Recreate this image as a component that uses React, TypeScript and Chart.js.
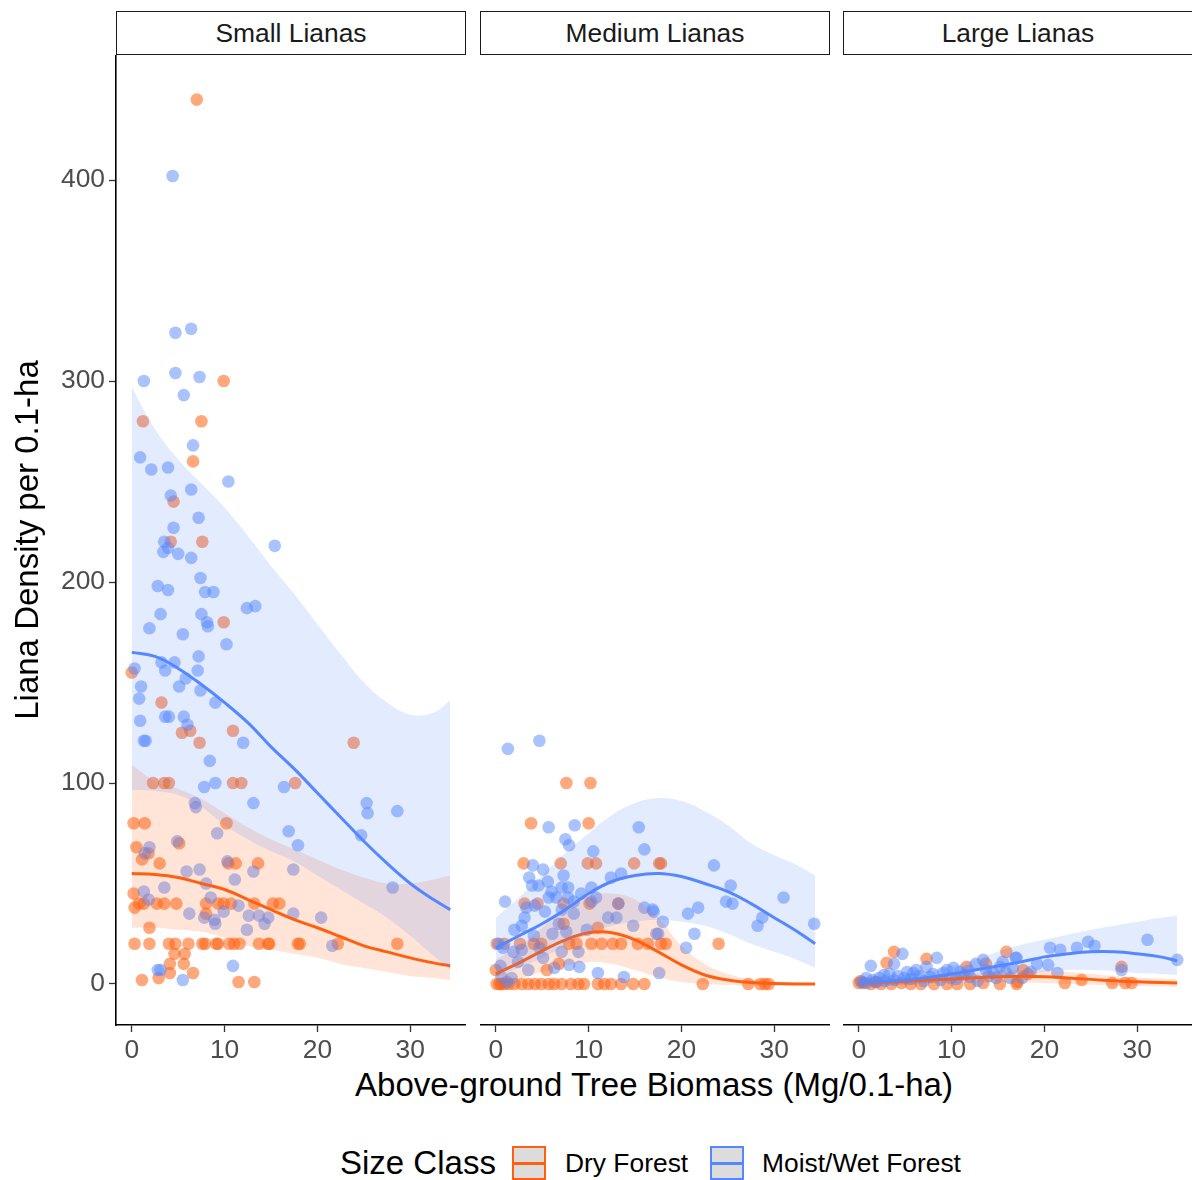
import React, { useEffect, useRef } from "react";
import { Chart, registerables } from "chart.js";

Chart.register(...registerables);

const FONT = "'Liberation Sans', Arial, Helvetica, sans-serif";

// ---------- axes ----------
const X_MIN = -1.7;
const X_MAX = 36.0;
const Y_MIN = -20.4;
const Y_MAX = 462.2;
const X_TICKS = [0, 10, 20, 30];
const Y_TICKS = [0, 100, 200, 300, 400];
const Y_TITLE = "Liana Density per 0.1-ha";
const X_TITLE = "Above-ground Tree Biomass (Mg/0.1-ha)";
const LEGEND_TITLE = "Size Class";
const panelNames = ["Small Lianas", "Medium Lianas", "Large Lianas"];
const groupNames = ["Dry Forest", "Moist/Wet Forest"];

// ---------- colours ----------
const ORANGE = "rgb(255,96,16)";
const ORANGE_PT = "rgba(255,96,16,0.55)";
const ORANGE_BAND = "rgba(255,96,16,0.17)";
const BLUE = "rgb(85,135,255)";
const BLUE_PT = "rgba(85,135,255,0.5)";
const BLUE_BAND = "rgba(85,135,255,0.165)";

// ---------- Small lianas ----------
const smallMoist: number[][] = [
  [4.4, 402], [6.4, 326], [4.7, 324], [1.3, 300], [4.7, 304], [7.3, 302], [5.6, 293], [6.6, 268],
  [0.9, 262], [2.1, 256], [3.9, 257], [6.4, 246], [4.2, 243], [10.4, 250], [7.2, 232], [4.5, 227],
  [3.5, 220], [3.9, 217], [3.4, 215], [5.0, 214], [6.4, 212], [15.4, 218], [7.4, 202], [2.8, 198],
  [3.9, 196], [7.9, 195], [8.8, 195], [13.3, 188], [12.4, 187], [3.1, 184], [7.5, 184], [8.1, 180],
  [8.2, 178], [1.9, 177], [5.5, 174], [10.2, 169], [3.2, 160], [4.6, 160], [0.3, 157], [7.2, 163],
  [3.6, 156], [5.8, 152], [7.1, 156], [1.0, 148], [5.1, 148], [7.4, 146], [0.8, 142], [9.0, 140],
  [4.0, 133], [3.6, 133], [5.6, 133], [0.9, 131], [6.0, 129], [12.0, 120], [1.3, 121], [1.5, 121],
  [8.4, 111], [7.8, 98], [9.0, 100], [16.4, 98], [16.9, 76], [6.8, 90], [6.9, 88], [13.1, 90],
  [17.9, 69], [25.3, 90], [25.4, 85], [28.6, 86], [24.7, 74], [28.1, 48], [17.4, 57], [9.2, 75],
  [10.3, 61], [4.9, 71], [1.9, 68], [1.4, 65], [5.9, 56], [7.3, 57], [8.0, 50], [11.1, 52],
  [13.1, 56], [3.5, 48], [1.3, 46], [1.8, 42], [8.5, 43], [6.2, 35], [7.8, 33], [8.9, 32],
  [9.0, 30], [9.9, 36], [11.5, 39], [12.6, 34], [13.7, 34], [14.7, 33], [14.3, 30], [17.4, 35],
  [20.4, 33], [21.6, 19], [10.9, 9], [3.1, 7], [5.5, 2], [2.8, 7], [12.4, 27],
];
const smallDry: number[][] = [
  [7.0, 440], [9.9, 300], [1.2, 280], [7.5, 280], [6.6, 260], [4.5, 240], [4.2, 220], [7.6, 220],
  [9.9, 180], [0.0, 155], [3.2, 140], [5.4, 125], [6.3, 126], [10.9, 126], [7.3, 120], [23.9, 120],
  [2.3, 100], [3.5, 100], [4.0, 100], [10.9, 100], [11.8, 100], [17.6, 100], [0.2, 80], [1.4, 80],
  [10.2, 80], [0.5, 68], [5.1, 70], [1.1, 62], [1.8, 65], [3.0, 60], [10.4, 60], [11.2, 60],
  [13.6, 60], [0.2, 45], [0.3, 38], [0.8, 40], [1.3, 40], [2.7, 40], [3.5, 40], [4.8, 40],
  [8.0, 40], [9.3, 40], [9.9, 40], [10.7, 40], [13.2, 40], [15.2, 40], [15.9, 40], [8.0, 35],
  [1.9, 28], [0.3, 20], [1.9, 20], [4.0, 20], [4.7, 20], [6.1, 20], [7.6, 20], [7.9, 20],
  [9.1, 20], [9.3, 20], [10.5, 20], [11.0, 20], [11.6, 20], [13.7, 20], [14.7, 20], [14.8, 20],
  [17.9, 20], [18.1, 20], [22.2, 20], [28.6, 20], [4.6, 15], [5.7, 15], [4.1, 10], [5.6, 10],
  [6.6, 5.5], [1.1, 2], [2.9, 3], [4.1, 5.5], [11.5, 1], [13.2, 1],
];
const smallFitX = [0, 2.5, 5, 7.5, 10, 12.5, 15, 17.5, 20, 22.5, 25, 27.5, 30, 32.5, 34.3];
const smallMoistFit = [165, 163, 157, 149, 140, 130, 118, 107, 95, 83, 71, 60, 50, 42, 37];
const smallMoistUpper = [297, 276, 261, 249, 237, 223, 208, 194, 179, 164, 150, 140, 134, 135, 141];
const smallMoistLower = [96.5, 96, 94, 88, 79, 72, 66, 61, 54, 47, 40, 33, 24, 14, 7];
const smallDryFit = [55, 54.5, 53, 50, 47, 42, 37, 32, 28, 23.5, 19, 16, 13, 10.5, 9];
const smallDryUpper = [109, 101, 97, 92, 85, 78, 72, 67, 62, 57, 53, 50, 50, 52, 54];
const smallDryLower = [28, 28, 27, 26, 23, 19, 17, 15, 13, 10, 8, 6, 4, 3, 2];

// ---------- Medium lianas ----------
const mediumMoist: number[][] = [
  [1.3, 117], [4.7, 121], [5.7, 78], [8.5, 79], [7.5, 72], [7.9, 69], [15.4, 78], [16.0, 67],
  [10.5, 66], [1.0, 41], [4.0, 59], [5.1, 57], [3.6, 53], [3.9, 49], [4.6, 49], [5.6, 51],
  [6.0, 46], [7.3, 54], [7.1, 48], [7.8, 48], [10.3, 48], [9.2, 45], [12.4, 53], [13.5, 55],
  [5.7, 43], [6.5, 43], [7.8, 43], [10.8, 43], [3.3, 38], [4.2, 39], [5.3, 36], [3.1, 33],
  [2.8, 29], [2.0, 27], [7.1, 37], [8.4, 35], [6.8, 30], [7.6, 26], [6.1, 25], [4.1, 24],
  [0.8, 18], [1.9, 16], [2.8, 17], [4.7, 18], [5.1, 13], [7.1, 16], [8.9, 16], [6.3, 8],
  [7.9, 9.5], [9.0, 8.5], [3.5, 7], [0.6, 3.5], [1.7, 3], [1.2, 1], [11.0, 5.5], [13.8, 3.5],
  [12.1, 33], [13.2, 40], [13.0, 33], [14.8, 29], [10.3, 41], [8.4, 41], [16.0, 38], [17.0, 36],
  [17.5, 25], [9.8, 27], [23.5, 59], [25.3, 49], [24.8, 41], [25.5, 40], [31.0, 43], [21.8, 38],
  [20.7, 35], [18.0, 31], [28.7, 33], [28.2, 29], [34.3, 30], [21.4, 25], [20.5, 18], [17.3, 25],
  [16.9, 37], [17.6, 5.5], [0.3, 20], [2.4, 11], [0.5, 9],
];
const mediumDry: number[][] = [
  [7.6, 100], [10.2, 100], [3.8, 80], [10.0, 80], [3.0, 60], [7.0, 60], [9.9, 60], [10.8, 60],
  [14.9, 60], [17.6, 60], [17.8, 60], [24.0, 20], [3.1, 40], [4.5, 40], [7.3, 40], [10.1, 40],
  [13.2, 40], [17.8, 20], [18.3, 20], [11.0, 28], [7.3, 30], [0.1, 20], [0.9, 20], [2.6, 20],
  [4.1, 20], [4.9, 20], [7.9, 20], [8.7, 20], [10.3, 20], [11.4, 20], [12.6, 20], [13.5, 20],
  [15.3, 20], [16.4, 20], [0.1, 0], [0.6, 0], [1.4, 0], [2.0, 0], [2.8, 0], [3.5, 0],
  [4.2, 0], [4.9, 0], [5.7, 0], [6.3, 0], [7.1, 0], [8.1, 0], [8.9, 0], [9.5, 0],
  [11.0, 0], [11.7, 0], [12.4, 0], [13.5, 0], [14.8, 0], [16.0, 0], [22.3, 0], [27.2, 0],
  [28.5, 0], [29.0, 0], [29.4, 0], [5.5, 7], [6.8, 10], [0.0, 7], [0.4, 0], [1.0, 0],
];
const mediumFitX = [0, 2.5, 5, 7.5, 10, 12.5, 15, 17.5, 20, 22.5, 25, 27.5, 30, 32.5, 34.4];
const mediumMoistFit = [18, 24, 30, 37, 45, 51, 54, 55, 53.5, 50, 46, 40, 33, 26, 20];
const mediumMoistUpper = [33, 43, 54, 65, 75, 84, 90, 92.5, 91, 86, 79, 70, 64, 59, 54];
const mediumMoistLower = [4, 8, 13, 19, 25, 29, 31, 32, 31, 29, 25, 20, 16, 12, 8];
const mediumDryFit = [5, 10.5, 16.5, 22, 25.5, 25.5, 22, 16, 9.5, 4.5, 2, 0.7, 0.2, 0, 0];
const mediumDryUpper = [12, 19, 28, 38, 44, 45, 42, 33, 19, 10, 5, 2.5, 1.2, 0.8, 0.5];
const mediumDryLower = [-1, 2.5, 6, 9, 11, 10, 7, 3.5, 1, 0, -0.5, -0.8, -0.8, -0.6, -0.5];

// ---------- Large lianas ----------
const largeMoist: number[][] = [
  [1.3, 9], [4.7, 15], [3.8, 10], [8.4, 13], [7.3, 8.5], [5.9, 5.5], [2.7, 4.5], [0.8, 3],
  [9.1, 5.5], [10.9, 6], [12.6, 10], [13.4, 12], [15.2, 8.5], [16.9, 13], [1.9, 1], [3.8, 2],
  [5.6, 2.5], [7.7, 3.5], [9.9, 3], [12.0, 3.5], [13.7, 7], [14.5, 5.5], [16.3, 3], [17.0, 13],
  [20.6, 18], [21.7, 17], [23.5, 18], [24.7, 21], [25.4, 19], [31.1, 22], [34.3, 12], [28.3, 7],
  [20.4, 9.5], [21.4, 5.5], [17.6, 3], [0.3, 1], [2.2, 3], [4.2, 4], [6.5, 4], [8.8, 2],
  [11.3, 4.5], [14.0, 4], [15.8, 6], [10.2, 8], [6.2, 7], [0.8, 0.5], [1.5, 2], [2.8, 1.5],
  [3.3, 5], [4.9, 3], [5.2, 6], [7.0, 1.5], [8.0, 5], [9.5, 7], [10.5, 2.5], [11.8, 6.5],
  [12.8, 1.5], [14.8, 3], [15.5, 11], [16.6, 8], [18.5, 6], [19.2, 10],
];
const largeDry: number[][] = [
  [3.8, 16], [3.0, 10.5], [7.3, 12.5], [0.0, 0.5], [0.5, 0.5], [1.3, 0], [2.4, 0], [3.5, 0],
  [4.6, 0.5], [5.6, 0], [6.7, 0], [8.1, 0], [9.5, 0], [10.6, 0], [12.0, 0], [13.4, 0.5],
  [15.2, 0], [17.0, 0], [11.6, 8.5], [13.7, 10], [15.9, 16], [17.7, 7], [18.2, 5], [22.2, 0.5],
  [24.0, 2], [27.3, 0.5], [28.3, 8.5], [28.7, 0.5], [29.4, 0.5], [17.1, 1], [0.2, 1.5], [1.8, 1],
];
const largeFitX = [0, 2.5, 5, 7.5, 10, 12.5, 15, 17.5, 20, 22.5, 25, 27.5, 30, 32.5, 34.3];
const largeMoistFit = [0.5, 1.2, 2, 3.3, 5, 7, 9, 11, 13.5, 15, 16, 16, 15, 13.5, 11.5];
const largeMoistUpper = [3, 3.5, 5, 6.5, 9, 12, 16, 19.5, 22, 24.5, 27, 29, 31, 33, 34];
const largeMoistLower = [-2, -1, -0.5, 0.5, 1.5, 2.5, 3.5, 4.5, 6, 7, 7, 6.5, 5.5, 5, 4.5];
const largeDryFit = [0.3, 0.8, 1.3, 1.9, 2.5, 3.1, 3.6, 3.8, 3.6, 3, 2.3, 1.6, 1.1, 0.7, 0.5];
const largeDryUpper = [2, 2.3, 2.8, 3.5, 4.5, 5.5, 6.5, 7, 6.8, 6, 5, 4, 3.2, 2.7, 2.5];
const largeDryLower = [-1.4, -0.7, -0.2, 0.3, 0.5, 0.7, 0.7, 0.6, 0.4, 0, -0.4, -0.8, -1, -1.3, -1.5];

// ---------- helpers ----------
const xy = (xs: number[], ys: number[]) => xs.map((x, i) => ({ x, y: ys[i] }));
const pts = (arr: number[][]) => arr.map(([x, y]) => ({ x, y }));

type PanelData = {
  moist: number[][];
  dry: number[][];
  fitX: number[];
  moistFit: number[];
  moistUpper: number[];
  moistLower: number[];
  dryFit: number[];
  dryUpper: number[];
  dryLower: number[];
};

const panels: PanelData[] = [
  { moist: smallMoist, dry: smallDry, fitX: smallFitX, moistFit: smallMoistFit, moistUpper: smallMoistUpper, moistLower: smallMoistLower, dryFit: smallDryFit, dryUpper: smallDryUpper, dryLower: smallDryLower },
  { moist: mediumMoist, dry: mediumDry, fitX: mediumFitX, moistFit: mediumMoistFit, moistUpper: mediumMoistUpper, moistLower: mediumMoistLower, dryFit: mediumDryFit, dryUpper: mediumDryUpper, dryLower: mediumDryLower },
  { moist: largeMoist, dry: largeDry, fitX: largeFitX, moistFit: largeMoistFit, moistUpper: largeMoistUpper, moistLower: largeMoistLower, dryFit: largeDryFit, dryUpper: largeDryUpper, dryLower: largeDryLower },
];

// layout (pixels)
const PANEL_TOP = 55;
const PLOT_H = 970;
const XAXIS_H = 40;
const YAXIS_W = 116;
const PANEL_W = 350;
const panelLefts = [116, 480, 843];

function FacetPanel({ idx }: { idx: number }) {
  const ref = useRef<HTMLCanvasElement | null>(null);
  const first = idx === 0;
  const plotLeft = panelLefts[idx];
  const canvasLeft = first ? 0 : plotLeft;
  const plotW = Math.min(PANEL_W, 1192 - plotLeft);
  const canvasW = (first ? YAXIS_W : 0) + plotW;
  const xMax = X_MIN + (plotW * (X_MAX - X_MIN)) / PANEL_W;

  useEffect(() => {
    const p = panels[idx];
    const line = (data: any, color: string, order: number, label: string) => ({
      type: "line" as const, label, data, borderColor: color, borderWidth: 3, pointRadius: 0,
      showLine: true, fill: false, tension: 0.4, order,
    });
    const band = (data: any, fill: any, bg: string, order: number, label: string) => ({
      type: "line" as const, label, data, borderWidth: 0, borderColor: "rgba(0,0,0,0)", pointRadius: 0,
      showLine: true, fill, backgroundColor: bg, tension: 0.4, order,
    });
    const tickFont = { family: FONT, size: 26.4 };
    const chart = new Chart(ref.current as HTMLCanvasElement, {
      type: "scatter",
      data: {
        datasets: [
          line(xy(p.fitX, p.moistFit), BLUE, 1, groupNames[1] + " fit"),
          band(xy(p.fitX, p.moistUpper), "+1", BLUE_BAND, 2, groupNames[1] + " upper"),
          band(xy(p.fitX, p.moistLower), false, BLUE_BAND, 2, groupNames[1] + " lower"),
          line(xy(p.fitX, p.dryFit), ORANGE, 3, groupNames[0] + " fit"),
          band(xy(p.fitX, p.dryUpper), "+1", ORANGE_BAND, 4, groupNames[0] + " upper"),
          band(xy(p.fitX, p.dryLower), false, ORANGE_BAND, 4, groupNames[0] + " lower"),
          { type: "scatter", label: groupNames[1], data: pts(p.moist), backgroundColor: BLUE_PT, borderWidth: 0, pointRadius: 6.3, order: 5 },
          { type: "scatter", label: groupNames[0], data: pts(p.dry), backgroundColor: ORANGE_PT, borderWidth: 0, pointRadius: 6.3, order: 6 },
        ] as any,
      },
      options: {
        animation: false,
        responsive: false,
        devicePixelRatio: 1,
        events: [],
        layout: { padding: 0, autoPadding: false },
        plugins: { legend: { display: false }, tooltip: { enabled: false }, title: { display: false } },
        scales: {
          x: {
            type: "linear",
            min: X_MIN,
            max: xMax,
            afterBuildTicks: (s: any) => { s.ticks = X_TICKS.map((v) => ({ value: v })); },
            afterFit: (s: any) => { s.height = XAXIS_H; s.paddingLeft = 0; s.paddingRight = 0; },
            ticks: { font: tickFont, color: "#4D4D4D", padding: 3, maxRotation: 0, autoSkip: false },
            grid: { display: true, drawOnChartArea: false, drawTicks: true, tickLength: 7, tickColor: "#333333", tickWidth: 1.3 },
            border: { display: true, color: "#000000", width: 1.6 },
          },
          y: {
            type: "linear",
            display: first,
            min: Y_MIN,
            max: Y_MAX,
            afterBuildTicks: (s: any) => { s.ticks = Y_TICKS.map((v) => ({ value: v })); },
            afterFit: (s: any) => { s.width = first ? YAXIS_W : 0; s.paddingTop = 0; s.paddingBottom = 0; },
            title: { display: first, text: Y_TITLE, font: { family: FONT, size: 33 }, color: "#000000", padding: { top: 9, bottom: 0 } },
            ticks: { font: tickFont, color: "#4D4D4D", padding: 4, autoSkip: false },
            grid: { display: true, drawOnChartArea: false, drawTicks: true, tickLength: 7, tickColor: "#333333", tickWidth: 1.3 },
            border: { display: true, color: "#000000", width: 1.6 },
          },
        },
      } as any,
    });
    return () => chart.destroy();
  }, [idx]);

  return (
    <canvas
      ref={ref}
      width={canvasW}
      height={PLOT_H + XAXIS_H}
      style={{ position: "absolute", left: canvasLeft, top: PANEL_TOP, width: canvasW, height: PLOT_H + XAXIS_H }}
    />
  );
}

function Strip({ idx }: { idx: number }) {
  return (
    <div
      style={{
        position: "absolute", left: panelLefts[idx], top: 11, width: PANEL_W, height: 44,
        boxSizing: "border-box", border: "1.8px solid #1A1A1A", background: "#fff",
        fontSize: 26.4, lineHeight: "42px", textAlign: "center", color: "#1A1A1A",
      }}
    >
      {panelNames[idx]}
    </div>
  );
}

function LegendKey({ left, color }: { left: number; color: string }) {
  return (
    <div
      style={{
        position: "absolute", left, top: 1146, width: 34, height: 34, boxSizing: "border-box",
        border: `2px solid ${color}`, background: "#DCDCDC",
      }}
    >
      <div style={{ position: "absolute", left: 0, right: 0, top: 13.5, height: 3, background: color }} />
    </div>
  );
}

export default function App() {
  useEffect(() => {
    document.body.style.margin = "0";
  }, []);
  return (
    <div
      style={{
        position: "relative", width: 1192, height: 1180, overflow: "hidden", background: "#fff",
        fontFamily: FONT,
      }}
    >
      {[0, 1, 2].map((i) => <FacetPanel key={"p" + i} idx={i} />)}
      {[0, 1, 2].map((i) => <Strip key={"s" + i} idx={i} />)}
      <div style={{ position: "absolute", left: 116, width: 1076, top: 1066, textAlign: "center", fontSize: 33, lineHeight: "38px", color: "#000" }}>
        {X_TITLE}
      </div>
      <div style={{ position: "absolute", left: 340, top: 1144, fontSize: 33, lineHeight: "38px", color: "#000" }}>{LEGEND_TITLE}</div>
      <LegendKey left={512} color={ORANGE} />
      <div style={{ position: "absolute", left: 565, top: 1147, fontSize: 26.4, lineHeight: "32px", color: "#000" }}>{groupNames[0]}</div>
      <LegendKey left={710} color={BLUE} />
      <div style={{ position: "absolute", left: 762, top: 1147, fontSize: 26.4, lineHeight: "32px", color: "#000" }}>{groupNames[1]}</div>
    </div>
  );
}
